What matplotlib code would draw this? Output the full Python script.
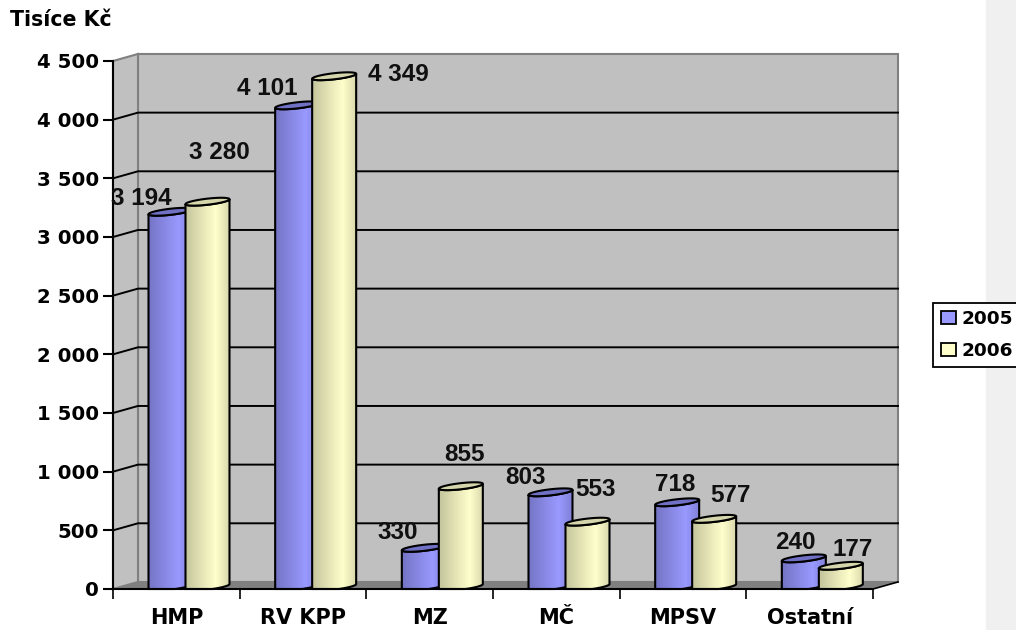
import matplotlib
matplotlib.use('Agg')
import matplotlib.pyplot as plt
import numpy as np
from matplotlib.patches import Polygon, Rectangle

categories = ["HMP", "RV KPP", "MZ", "MČ", "MPSV", "Ostatní"]
values_2005 = [3194, 4101, 330, 803, 718, 240]
values_2006 = [3280, 4349, 855, 553, 577, 177]
labels_2005 = ["3 194", "4 101", "330", "803", "718", "240"]
labels_2006 = ["3 280", "4 349", "855", "553", "577", "177"]
y_ticks = [0, 500, 1000, 1500, 2000, 2500, 3000, 3500, 4000, 4500]
y_tick_labels = ["0", "500", "1 000", "1 500", "2 000", "2 500", "3 000", "3 500", "4 000", "4 500"]

# label offsets from the top of each bar, in pixels
offsets_2005 = [(-29, 16), (-30, 19), (-26, 18), (-25, 17), (-2, 20), (-8, 18)]
offsets_2006 = [(12, 52), (64, 4), (4, 34), (8, 35), (16, 26), (12, 19)]

plt.rcParams['font.family'] = ['DejaVu Sans']

fig = plt.figure(figsize=(10.16, 6.3), dpi=100)
ax = fig.add_axes([113/1016, 41/630, 760/1016, 528/630])
ax.set_xlim(0, 6)
ax.set_ylim(0, 4500)
ax.patch.set_visible(False)

# grey strip on the right of the picture
fig.patches.append(Rectangle((986/1016, 0), 30/1016, 1, transform=fig.transFigure, color="#f0f0f0", zorder=-5))

depth_x = 25/126.67
depth_y = 60

# walls and floor
ax.add_patch(Polygon([(depth_x, depth_y), (6+depth_x, depth_y), (6+depth_x, 4500+depth_y), (depth_x, 4500+depth_y)],
                     fc="#c0c0c0", ec="#808080", lw=1.5, clip_on=False, zorder=1))
ax.add_patch(Polygon([(0, 0), (depth_x, depth_y), (depth_x, 4500+depth_y), (0, 4500)],
                     fc="#c0c0c0", ec="#808080", lw=1.5, clip_on=False, zorder=1))
ax.add_patch(Polygon([(0, 0), (depth_x, depth_y), (6+depth_x, depth_y), (6, 0)],
                     fc="#808080", ec="none", clip_on=False, zorder=1.5))
ax.plot([6, 6+depth_x], [0, depth_y], color="black", lw=1.2, clip_on=False, zorder=2)
for v in y_ticks[1:-1]:
    ax.plot([0, depth_x, 6+depth_x], [v, v+depth_y, v+depth_y],
            color="black", lw=1.4, clip_on=False, zorder=2)


def cylinder(left, value, colors, top_color, z):
    width = 44/126.67
    cx = left + width/2
    a = width/2
    b = 26  # half height of the ellipse
    rise = 42  # right end sits higher than left end
    t = np.linspace(np.pi, 2*np.pi, 60)
    bx = cx + a*np.cos(t)
    by = np.maximum(rise/2 + b*np.sin(t) + rise/2*np.cos(t), 0)
    tx = bx[::-1]
    ty = value + rise/2 + b*np.sin(t[::-1]) + rise/2*np.cos(t[::-1])
    verts = list(zip(bx, by)) + list(zip(tx, ty))
    grad = np.interp(np.linspace(0, 1, 256), [0, 0.7, 1], [0, 1, 0.35])
    c0, c1 = np.array(matplotlib.colors.to_rgb(colors[0])), np.array(matplotlib.colors.to_rgb(colors[1]))
    img = c0[None, :] + grad[:, None]*(c1-c0)[None, :]
    im = ax.imshow(img[None, :, :], extent=[left, left+width, -100, value+100], aspect='auto', zorder=z)
    fill = Polygon(verts, closed=True, transform=ax.transData, fc="none", ec="none")
    ax.add_patch(fill)
    im.set_clip_path(fill)
    ax.add_patch(Polygon(verts, closed=True, fc="none", ec="black", lw=1.5, zorder=z+0.1, clip_on=False))
    s = np.linspace(0, 2*np.pi, 80)
    ex = cx + a*np.cos(s)
    ey = value + rise/2 + b*np.sin(s) + rise/2*np.cos(s)
    ax.add_patch(Polygon(list(zip(ex, ey)), closed=True, fc=top_color, ec="black", lw=1.5, zorder=z+0.2, clip_on=False))


blue = ("#7474c4", "#9999ff")
cream = ("#c4c49c", "#ffffcc")
for i in range(len(categories)):
    cylinder(i+35.5/126.67, values_2005[i], blue, "#7070c4", 4+i)
    cylinder(i+72.5/126.67, values_2006[i], cream, "#d6d6ac", 4.5+i)
    c05 = i+57.5/126.67
    c06 = i+94.5/126.67
    ax.annotate(labels_2005[i], (c05, values_2005[i]), xytext=(offsets_2005[i][0]*0.72, offsets_2005[i][1]*0.72),
                textcoords='offset points', ha='center', va='center', fontsize=17.5, fontweight='bold', family='Liberation Sans',
                zorder=20, annotation_clip=False, color="#101010")
    ax.annotate(labels_2006[i], (c06, values_2006[i]), xytext=(offsets_2006[i][0]*0.72, offsets_2006[i][1]*0.72),
                textcoords='offset points', ha='center', va='center', fontsize=17.5, fontweight='bold', family='Liberation Sans',
                zorder=20, annotation_clip=False, color="#101010")

ax.set_xlim(0, 6)
ax.set_ylim(0, 4500)

for side in ['top', 'right']:
    ax.spines[side].set_visible(False)
for side in ['left', 'bottom']:
    ax.spines[side].set_linewidth(1.5)
    ax.spines[side].set_zorder(15)

ax.set_yticks(y_ticks)
ax.set_yticklabels(y_tick_labels, fontsize=14.2, fontweight='bold')
ax.tick_params(axis='y', length=7, width=1.5, pad=3)
ax.set_xticks(range(7))
ax.set_xticklabels([])
ax.tick_params(axis='x', which='major', length=7, width=1.2)
ax.set_xticks(np.arange(6)+0.5, minor=True)
ax.set_xticklabels(categories, minor=True, fontsize=15, fontweight='bold')
ax.tick_params(axis='x', which='minor', length=0, pad=14)

fig.text(10/1016, 1-20.5/630, "Tisíce Kč", fontsize=14.8, fontweight='bold', va='center')

# legend runs off the right edge of the picture
handles = [Rectangle((0, 0), 1, 1, fc="#9999ff", ec="black", lw=1.3),
           Rectangle((0, 0), 1, 1, fc="#ffffcc", ec="black", lw=1.3)]
leg = fig.legend(handles, ["2005", "2006"], loc='center left', bbox_to_anchor=(933/1016, 1-335/630),
                 prop={'size': 13.3, 'weight': 'bold'}, fancybox=False, edgecolor="black", framealpha=1,
                 handlelength=0.8, handleheight=0.7, handletextpad=0.3, labelspacing=0.72, borderpad=0.42, borderaxespad=0)
leg.get_frame().set_linewidth(1.3)

fig.savefig("out.png", dpi=100)
